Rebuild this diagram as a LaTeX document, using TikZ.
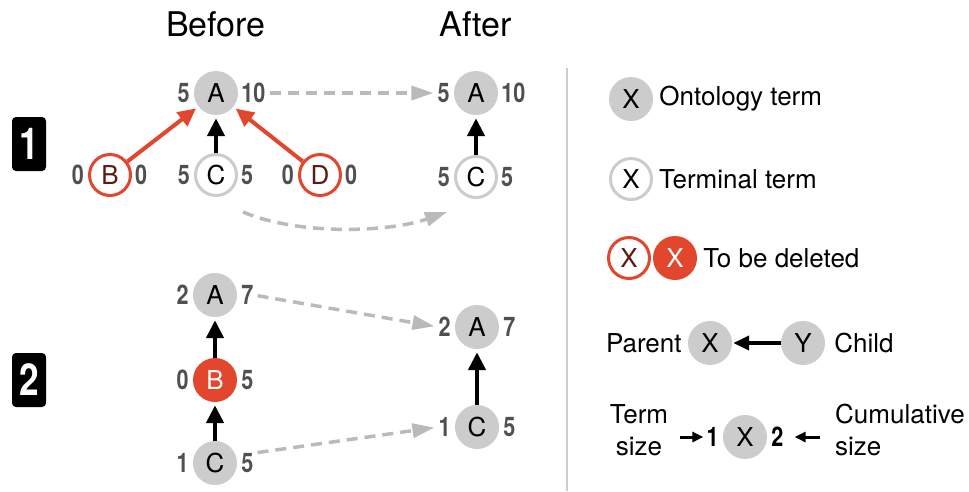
\documentclass[tikz,border=0pt]{standalone}
\usepackage{fontspec}
\setmainfont{TeX Gyre Heros}
\usetikzlibrary{positioning,arrows.meta}

\definecolor{termgray}{RGB}{204,204,204}
\definecolor{delred}{RGB}{226,70,45}
\definecolor{deltext}{RGB}{92,26,18}
\definecolor{numgray}{RGB}{80,80,80}
\definecolor{movegray}{RGB}{186,186,186}

\newcommand{\cnd}[1]{\scalebox{0.8}[1]{\bfseries #1}}

\tikzset{
  term/.style={circle,fill=termgray,minimum size=44pt,inner sep=0pt,font=\fontsize{26}{26}\selectfont},
  terminal/.style={term,fill=white,draw=termgray,line width=3pt,minimum size=41pt},
  delring/.style={terminal,draw=delred,text=deltext},
  delfill/.style={term,fill=delred,text=white},
  num/.style={inner sep=0pt,text=numgray,font=\fontsize{27}{27}\selectfont\bfseries},
  isa/.style={line width=4.5pt,-{Triangle[length=18pt,width=17pt]},shorten >=3pt},
  delisa/.style={isa,draw=delred,line width=4pt},
  move/.style={draw=movegray,line width=3.5pt,dash pattern=on 11pt off 7pt,
    -{Triangle[length=22pt,width=14pt]},shorten <=4pt,shorten >=4pt},
  sizearrow/.style={line width=3pt,-{Triangle[length=11pt,width=10pt]}},
  legtext/.style={inner sep=1pt,font=\fontsize{26}{32}\selectfont},
  header/.style={inner sep=0pt,font=\fontsize{34}{34}\selectfont},
  panelbox/.style={fill=black,rounded corners=4pt,minimum width=34pt,minimum height=54pt,
    inner sep=0pt,text=white,font=\fontsize{44}{44}\selectfont}
}

\begin{document}
\begin{tikzpicture}[x=1pt,y=-1pt]
  \useasboundingbox (0,0) rectangle (969,491);

  % headers and panel numbers
  \node[header] (before) at (216,24) {Before};
  \node[header] (after) at (476,24) {After};
  \node[panelbox] (p1) at (29,144) {\cnd{1}};
  \node[panelbox] (p2) at (29,380) {\cnd{2}};

  % case 1, before
  \node[term] (a1) at (216,93) {A};
  \node[delring] (b1) at (110,175) {B};
  \node[terminal] (c1) at (216,175) {C};
  \node[delring] (d1) at (320,175) {D};
  \node[num,left=4pt of a1] (a1l) {\cnd{5}};
  \node[num,right=3pt of a1] (a1r) {\cnd{10}};
  \node[num,left=4pt of b1] (b1l) {\cnd{0}};
  \node[num,right=3pt of b1] (b1r) {\cnd{0}};
  \node[num,left=4pt of c1] (c1l) {\cnd{5}};
  \node[num,right=3pt of c1] (c1r) {\cnd{5}};
  \node[num,left=4pt of d1] (d1l) {\cnd{0}};
  \node[num,right=3pt of d1] (d1r) {\cnd{0}};
  \draw[delisa] (b1) -- (a1);
  \draw[delisa] (d1) -- (a1);
  \draw[isa] (c1) -- (a1);

  % case 1, after
  \node[term] (aa1) at (476,93) {A};
  \node[terminal] (cc1) at (476,177) {C};
  \node[num,left=4pt of aa1] (aa1l) {\cnd{5}};
  \node[num,right=3pt of aa1] (aa1r) {\cnd{10}};
  \node[num,left=4pt of cc1] (cc1l) {\cnd{5}};
  \node[num,right=3pt of cc1] (cc1r) {\cnd{5}};
  \draw[isa] (cc1) -- (aa1);

  \draw[move] (a1r.east) -- (aa1l.west);
  \coordinate (m1s) at (243,212);
  \coordinate (m1e) at (447,212);
  \draw[move,shorten <=0pt,shorten >=0pt] (m1s) .. controls (300,236) and (390,232) .. (m1e);

  % case 2, before
  \node[term] (a2) at (215,295) {A};
  \node[delfill] (b2) at (215,380) {B};
  \node[term] (c2) at (215,463) {C};
  \node[num,left=4pt of a2] (a2l) {\cnd{2}};
  \node[num,right=4pt of a2] (a2r) {\cnd{7}};
  \node[num,left=4pt of b2] (b2l) {\cnd{0}};
  \node[num,right=4pt of b2] (b2r) {\cnd{5}};
  \node[num,left=4pt of c2] (c2l) {\cnd{1}};
  \node[num,right=4pt of c2] (c2r) {\cnd{5}};
  \draw[isa] (b2) -- (a2);
  \draw[isa] (c2) -- (b2);

  % case 2, after
  \node[term] (aa2) at (477,327) {A};
  \node[term] (cc2) at (477,427) {C};
  \node[num,left=4pt of aa2] (aa2l) {\cnd{2}};
  \node[num,right=4pt of aa2] (aa2r) {\cnd{7}};
  \node[num,left=4pt of cc2] (cc2l) {\cnd{1}};
  \node[num,right=4pt of cc2] (cc2r) {\cnd{5}};
  \draw[isa] (cc2) -- (aa2);

  \draw[move] (a2r.east) -- (aa2l.west);
  \draw[move] (c2r.north east) -- (cc2l.west);

  % separator
  \draw[termgray,line width=2pt] (567,68) -- (567,491);

  % legend
  \node[term] (lt) at (631,99) {X};
  \node[legtext,right=5pt of lt] (ltt) {Ontology term};
  \node[terminal] (lf) at (631,179) {X};
  \node[legtext,right=5pt of lf] (lft) {Terminal term};
  \node[delring] (ld1) at (629,258) {X};
  \node[delfill] (ld2) at (675,258) {X};
  \node[legtext,right=5pt of ld2] (ldt) {To be deleted};

  \node[term] (lx) at (710,343) {X};
  \node[term] (ly) at (803,343) {Y};
  \node[legtext,left=5pt of lx] (lpar) {Parent};
  \node[legtext,right=8pt of ly] (lchi) {Child};
  \draw[isa,-{Triangle[length=16pt,width=14pt]},shorten >=1pt] (ly) -- (lx);

  \node[term] (ls) at (745,437) {X};
  \node[num,text=black,left=4pt of ls] (ls1) {\cnd{1}};
  \node[num,text=black,right=4pt of ls] (ls2) {\cnd{2}};
  \node[legtext,align=center] (lterm) at (639,430) {Term\\size};
  \node[legtext,align=left,anchor=west] (lcum) at (834,430) {Cumulative\\size};
  \draw[sizearrow,shorten <=11pt,shorten >=3pt] (ls1.west -| lterm.east) -- (ls1.west);
  \draw[sizearrow,shorten <=14pt,shorten >=11pt] (ls2.east -| lcum.west) -- (ls2.east);
\end{tikzpicture}
\end{document}
